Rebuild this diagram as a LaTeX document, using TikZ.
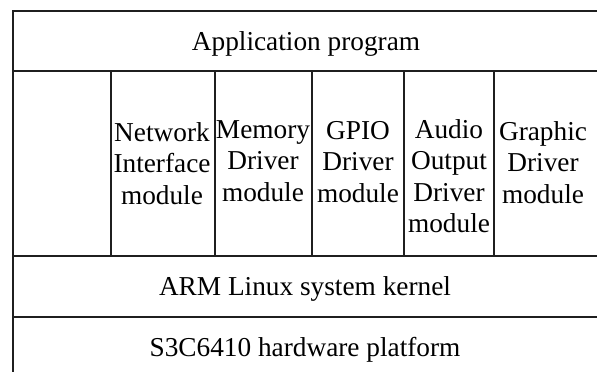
\documentclass[tikz,border=0pt]{standalone}
\usepackage{fontspec}
\setmainfont{Liberation Serif}
\usetikzlibrary{positioning}

\begin{document}
\begin{tikzpicture}[
    x=1pt, y=-1pt,
    rule/.style={
        line width=1.3pt, draw=black!88, line cap=rect
    },
    layer/.style={
        font=\fontsize{27.3}{31.5}\selectfont, inner sep=0pt
    },
    module/.style={
        layer, align=center, anchor=north
    }
]
\useasboundingbox (0,0) rectangle (597,372);

%% ── Table rules ──────────────────────────────────────────────────────────────
\draw[rule] (597,11) -- (13,11) -- (13,372);
\foreach \y in {71, 256, 317}
    \draw[rule] (13,\y) -- (597,\y);
\foreach \x in {111, 215, 312, 404, 494}
    \draw[rule] (\x,71) -- (\x,256);

%% ── Layers ───────────────────────────────────────────────────────────────────
\node[layer, anchor=base] (app)      at (306, 50)  {Application program};
\node[layer, anchor=base] (kernel)   at (305, 295) {ARM Linux system kernel};
\node[layer, anchor=base] (hardware) at (305, 356) {S3C6410 hardware platform};

%% ── Driver modules ───────────────────────────────────────────────────────────
\node[module] (network) at (162, 122) {Network\\Interface\\module};
\node[module] (memory)  at (263, 120) {Memory\\Driver\\module};
\node[module] (gpio)    at (358, 121) {GPIO\\Driver\\module};
\node[module] (audio)   at (449, 119) {Audio\\Output\\Driver\\module};
\node[module] (graphic) at (543, 121) {Graphic\\Driver\\module};

\end{tikzpicture}
\end{document}
